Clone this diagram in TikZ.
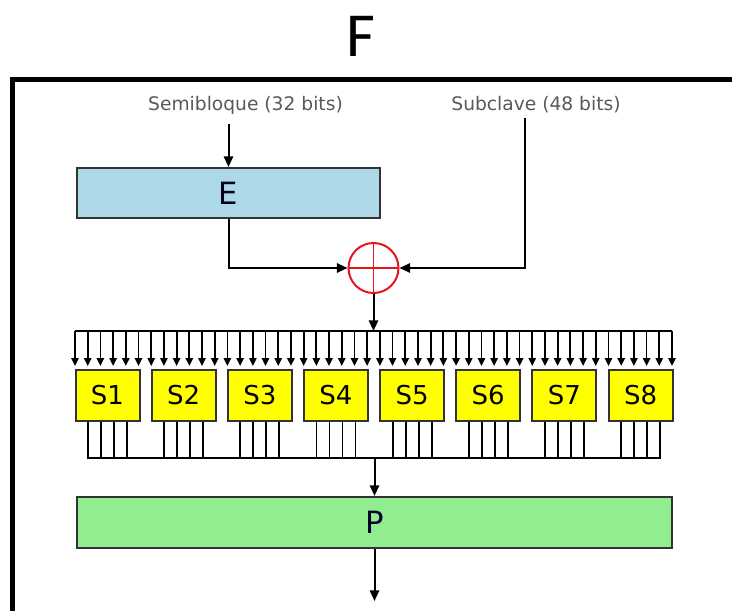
\documentclass[tikz,border=0pt]{standalone}
\usepackage{fontspec}
\setmainfont{DejaVu Sans}
\newfontfamily\titlefont{Carlito}
\usepackage{tikz}
\usetikzlibrary{arrows.meta,calc}

\definecolor{eblue}{RGB}{173,216,230}
\definecolor{pgreen}{RGB}{144,238,144}
\definecolor{sbyellow}{RGB}{255,255,0}
\definecolor{xorred}{RGB}{230,20,30}

\begin{document}
\begin{tikzpicture}[x=0.75pt, y=-0.75pt, thick,
    conn/.style={line width=1.5pt, -{Triangle[length=8pt, width=7pt]}},
    busline/.style={line width=1.35pt},
    bitarrow/.style={line width=1.35pt, -{Triangle[length=6pt, width=5.5pt]}},
    wide/.style={draw=black!80, line width=1.6pt, inner sep=0pt, text=black!85!blue, font=\fontsize{23}{26}\selectfont},
    sbox/.style={draw=black!80, line width=1.5pt, fill=sbyellow, minimum width=48pt, minimum height=38pt, inner sep=0pt, font=\fontsize{19.5}{22}\selectfont},
    inlabel/.style={text=black!65, font=\fontsize{14}{16}\selectfont}]
                \useasboundingbox (0,0) rectangle (732,611);
                % frame
                \draw[line width=3.75pt] (10,79.5) -- (732,79.5);
                \draw[line width=3.75pt] (12.5,79.5) -- (12.5,611);
                \node (F) at (361,36) {\titlefont\fontsize{47}{50}\selectfont F};

                \node (semiT) [inlabel] at (245.5,105) {Semibloque (32 bits)};
                \node (subT) [inlabel] at (536,105) {Subclave (48 bits)};
                \coordinate (semi) at (228.5,124);
                \coordinate (subk) at (525,118);

                \node (E) [wide, fill=eblue, minimum width=227.25pt, minimum height=37.5pt] at (228.5,193) {E};
                \node (xor) [circle, draw=xorred, line width=1.5pt, minimum size=37.5pt, inner sep=0pt,
                    path picture={\draw[xorred, line width=1.3pt] (path picture bounding box.north) -- (path picture bounding box.south)
                        (path picture bounding box.west) -- (path picture bounding box.east);}] at (373.5,268) {};

                \draw[conn] (semi) -- (E.north);
                \draw[conn] (E.south) |- (xor.west);
                \draw[conn] (subk) |- (xor.east);

                % expanded bits into the S-boxes
                \coordinate (inL) at (75,331);
                \coordinate (inR) at (672,331);
                \draw[conn] (xor.south) -- (xor.south |- inL);
                \draw[busline] (inL) -- (inR);
                \foreach \i in {0,...,47}
                    \draw[bitarrow] ($(inL)+(\i*12.702,0)$) -- ++(0,35);

                \foreach \k in {1,...,8}
                    \node (S\k) [sbox] at (107.5+76.15*\k-76.15,395.5) {S\k};
                \foreach \k in {1,...,8}
                    \foreach \j in {-1.5,-0.5,0.5,1.5}
                        \draw[busline] ([xshift=\j*9.75pt]S\k.south) -- ++(0,37);

                \coordinate (outL) at (88,458);
                \coordinate (outR) at (660,458);
                \draw[busline] (outL) -- (outR);

                \node (P) [wide, fill=pgreen, minimum width=446.25pt, minimum height=38.25pt] at (374.5,522.5) {P};
                \coordinate (out) at (374.5,601);
                \draw[conn] (P.north |- outL) -- (P.north);
                \draw[conn] (P.south) -- (out);
            \end{tikzpicture}
\end{document}
